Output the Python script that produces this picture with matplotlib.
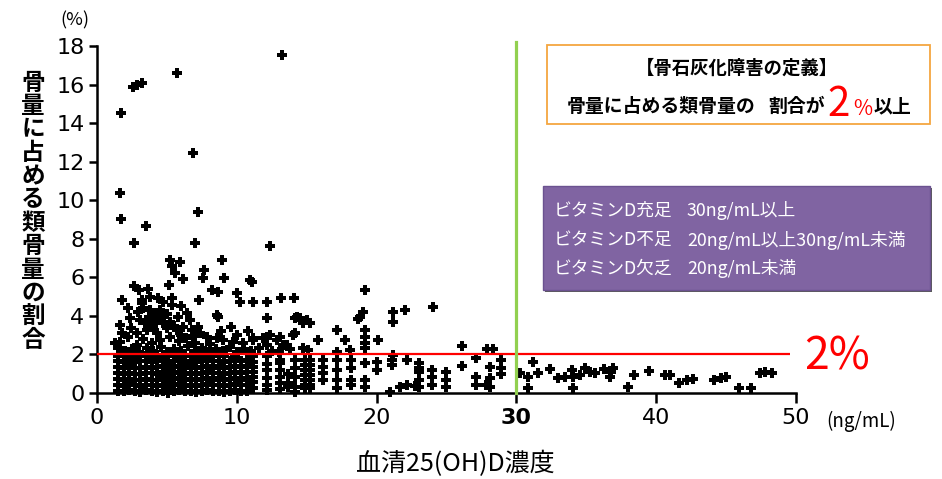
import matplotlib.pyplot as plt
from matplotlib.patches import Rectangle

plt.rcParams['font.family'] = ['Noto Sans CJK JP', 'DejaVu Sans']

# threshold lines
bone_cut = 2.0       # % osteoid volume
vitd_cut = 30        # ng/mL

# scattered points above the band (x = 25(OH)D ng/mL, y = %)
high_x = [1.7, 2.55, 2.85, 3.2, 5.7, 13.25, 6.9, 1.65, 1.72, 7.2, 3.48, 2.67, 7.02, 12.37]
high_y = [14.55, 15.85, 16.0, 16.1, 16.6, 17.55, 12.45, 10.35, 9.05, 9.4, 8.65, 7.8, 7.8, 7.6]

mid_x = [5.22, 5.94, 5.4, 5.58, 6.15, 7.65, 7.6, 8.92, 9.05, 10.94, 2.65, 3.0, 3.65, 5.12,
         8.2, 8.68, 10.05, 11.07, 1.76, 3.2, 3.79, 4.39, 4.75, 5.34, 7.3, 10.23, 11.18, 12.14,
         13.15, 14.1, 19.17, 24.06, 22.03, 21.2, 21.15, 19.05, 18.8, 18.7]
mid_y = [6.9, 6.81, 6.6, 6.22, 5.93, 6.38, 5.95, 6.9, 5.95, 5.86, 5.55, 5.34, 5.4, 5.6,
         5.34, 5.22, 5.17, 5.77, 4.82, 4.82, 5.0, 4.91, 4.74, 4.91, 4.82, 4.74, 4.74, 4.74,
         4.95, 4.95, 5.34, 4.48, 4.3, 4.22, 3.7, 4.22, 3.96, 3.82]

cloud_x = [3.2, 3.31, 3.79, 4.15, 4.5, 5.34, 2.36, 3.08, 3.43, 3.91, 4.27, 4.75, 5.22, 5.82,
           6.42, 6.65, 1.65, 1.76, 1.65, 1.52, 1.29, 2.84, 2.84, 3.55, 4.27, 4.99, 5.7, 6.17,
           6.77, 7.2, 7.37, 7.85, 8.56, 9.03, 9.75, 10.47, 11.18, 11.9, 12.37, 12.85, 13.33,
           14.04, 14.28, 14.76, 15.24, 15.83, 8.56, 9.55, 8.68, 12.14, 14.16, 14.52, 15.0,
           14.16, 12.14, 12.14, 11.18, 13.09, 13.57, 14.76, 15.1, 17.15, 17.74, 18.1, 19.17,
           19.17, 19.17, 19.17, 20.12, 21.2,
           2.0, 2.5, 3.0, 3.6, 4.0, 4.6, 5.0, 5.5, 6.0, 6.5, 7.0, 7.5, 8.0, 8.5, 9.0, 9.5,
           10.0, 10.5, 11.0, 11.6, 12.5, 13.0, 13.8,
           2.2, 3.3, 3.9, 4.5, 5.2, 5.9, 6.4, 7.0, 2.4, 4.0, 5.5, 6.0, 6.9, 8.1, 8.9, 10.0,
           10.8, 3.7, 4.6, 5.0, 2.9, 6.0, 2.2]
cloud_y = [4.65, 4.39, 4.3, 4.13, 4.3, 4.56, 3.87, 3.79, 3.61, 3.7, 3.79, 3.61, 3.7, 3.96,
           4.13, 3.79, 3.53, 3.1, 2.66, 2.32, 2.58, 3.1, 2.49, 3.27, 3.1, 3.36, 3.27, 3.44,
           3.27, 3.44, 3.1, 2.92, 2.84, 2.75, 2.66, 2.58, 2.75, 2.84, 3.01, 2.75, 2.49,
           3.01, 3.96, 3.61, 3.61, 2.75, 4.05, 3.44, 3.96, 3.87, 3.87, 3.87, 3.79,
           3.1, 2.92, 2.49, 2.84, 2.92, 2.49, 2.32, 2.23, 3.27, 2.75, 2.23, 3.27,
           2.92, 2.58, 2.32, 2.75, 1.97,
           2.2, 2.3, 2.15, 2.35, 2.2, 2.4, 2.15, 2.3, 2.2, 2.45, 2.2, 2.35, 2.15, 2.3, 2.2, 2.4,
           2.15, 2.3, 2.2, 2.35, 2.2, 2.15, 2.3,
           2.9, 2.8, 2.6, 2.75, 2.9, 2.7, 2.85, 2.6, 3.35, 3.4, 3.5, 3.0, 2.95, 2.55, 3.2, 3.0,
           3.2, 3.95, 3.9, 4.1, 4.2, 4.5, 4.4]

# dense band under 2 %, read column by column
band_cols = [
    (1.5, [0.12, 0.42, 0.72, 1.02, 1.35, 1.65, 1.92]),
    (1.9, [0.08, 0.38, 0.7, 1.0, 1.3, 1.62, 1.9]),
    (2.3, [0.15, 0.45, 0.75, 1.05, 1.38, 1.7, 1.95]),
    (2.7, [0.1, 0.4, 0.68, 0.98, 1.28, 1.6, 1.88]),
    (3.1, [0.05, 0.35, 0.66, 1.0, 1.32, 1.64, 1.93]),
    (3.5, [0.14, 0.44, 0.74, 1.06, 1.36, 1.68, 1.9]),
    (3.9, [0.1, 0.4, 0.7, 1.02, 1.3, 1.6, 1.88]),
    (4.3, [0.06, 0.36, 0.68, 0.98, 1.34, 1.66, 1.95]),
    (4.7, [0.12, 0.44, 0.76, 1.08, 1.4, 1.7, 1.92]),
    (5.1, [0.02, 0.32, 0.62, 0.94, 1.26, 1.58, 1.9]),
    (5.5, [0.1, 0.4, 0.72, 1.04, 1.36, 1.66, 1.94]),
    (5.9, [0.14, 0.46, 0.78, 1.1, 1.4, 1.72, 1.9]),
    (6.3, [0.08, 0.38, 0.7, 1.0, 1.3, 1.62, 1.92]),
    (6.7, [0.12, 0.42, 0.74, 1.06, 1.38, 1.68, 1.95]),
    (7.1, [0.04, 0.36, 0.66, 0.98, 1.3, 1.6, 1.88]),
    (7.5, [0.1, 0.42, 0.72, 1.04, 1.34, 1.66, 1.92]),
    (7.9, [0.14, 0.46, 0.78, 1.08, 1.4, 1.7, 1.9]),
    (8.3, [0.08, 0.4, 0.7, 1.02, 1.32, 1.64, 1.94]),
    (8.7, [0.12, 0.44, 0.76, 1.06, 1.38, 1.68, 1.9]),
    (9.1, [0.06, 0.38, 0.68, 1.0, 1.3, 1.62, 1.92]),
    (9.5, [0.1, 0.42, 0.74, 1.04, 1.36, 1.66]),
    (9.9, [0.14, 0.46, 0.76, 1.08, 1.4, 1.7, 1.9]),
    (10.3, [0.08, 0.4, 0.7, 1.02, 1.34, 1.64]),
    (10.7, [0.12, 0.44, 0.76, 1.08, 1.4, 1.72]),
    (11.18, [1.9, 1.6, 1.36, 1.1, 0.85, 0.55, 0.25]),
    (12.14, [1.9, 1.5, 1.19, 0.76, 0.41, 0.15]),
    (13.09, [1.71, 1.54, 1.2, 0.85, 0.5, 0.2]),
    (13.66, [1.0, 0.5, 0.33]),
    (14.16, [1.71, 1.3, 0.85, 0.33, 0.07]),
    (14.88, [1.71, 1.45, 1.19, 0.93, 0.67, 0.41, 0.24]),
    (15.24, [1.71, 1.45, 1.19, 0.93, 0.67, 0.41, 0.24]),
    (16.14, [1.71, 1.36, 1.02, 0.67]),
    (17.15, [2.14, 1.71, 1.19, 0.67, 0.24]),
    (18.2, [1.71, 1.3, 0.67, 0.41]),
    (19.17, [1.54, 0.67, 0.33]),
    (20.05, [1.62, 1.19]),
    (20.96, [0.07]),
    (21.08, [1.71, 1.45]),
    (21.67, [0.33]),
    (22.15, [1.71, 0.41]),
    (22.75, [0.36]),
    (23.05, [1.54, 1.28, 1.1, 0.67, 0.33]),
    (23.94, [1.19, 0.85, 0.41]),
    (25.0, [1.1, 0.67, 0.33]),
    (26.1, [2.42, 1.42]),
    (27.1, [1.8, 0.85, 0.41]),
    (27.8, [0.41]),
    (27.9, [2.27]),
    (28.1, [1.36, 0.76, 0.33]),
    (28.3, [2.27]),
    (28.9, [1.71, 1.28, 0.98]),
]

# above 30 ng/mL
high_d_x = [30.26, 30.85, 30.85, 31.2, 31.57, 32.4, 33.0, 33.48, 33.95, 34.07, 34.07, 34.55,
            34.9, 35.27, 35.6, 36.3, 36.8, 36.9, 36.7, 38.4, 38.0, 39.5, 40.6, 41.0, 41.6,
            42.2, 42.65, 44.1, 44.6, 45.0, 45.9, 46.8, 47.4, 47.8, 48.3]
high_d_y = [1.02, 0.85, 0.24, 1.62, 1.02, 1.23, 0.76, 0.85, 1.19, 0.85, 0.24, 0.93,
            1.28, 1.1, 1.02, 1.23, 1.1, 1.28, 0.85, 0.93, 0.33, 1.16, 0.93, 0.93, 0.5,
            0.67, 0.71, 0.67, 0.76, 0.85, 0.28, 0.28, 1.02, 1.1, 1.05]

band_x = [c[0] for c in band_cols for _ in c[1]]
band_y = [v for c in band_cols for v in c[1]]
xs = high_x + mid_x + cloud_x + band_x + high_d_x
ys = high_y + mid_y + cloud_y + band_y + high_d_y

W, H = 942, 479
def fx(p):
    return p / W
def fy(p):
    return 1 - p / H

fig = plt.figure(figsize=(9.42, 4.79), dpi=100)
ax = fig.add_axes([fx(97), fy(393), (796 - 97) / W, (393 - 46) / H])

ax.scatter(xs, ys, marker='P', s=62, c='black', linewidths=0, zorder=3, clip_on=False)

ax.hlines(bone_cut, 0, 49.6, colors='#FF0000', linewidth=1.6, zorder=4)
ax.axvline(vitd_cut, ymin=0, ymax=1.012, color='#92D050', linewidth=2.3, zorder=4, clip_on=False)

ax.set_xlim(0, 50)
ax.set_ylim(0, 18)
ax.set_xticks([0, 10, 20, 30, 40, 50])
ax.set_xticklabels(['0', '10', '20', '30', '40', '50'])
ax.set_yticks(range(0, 19, 2))
for lbl in ax.get_xticklabels() + ax.get_yticklabels():
    lbl.set_family('DejaVu Sans')
    if lbl.get_text() == '30':
        lbl.set_fontweight('bold')

for s in ['top', 'right']:
    ax.spines[s].set_visible(False)
for s in ['left', 'bottom']:
    ax.spines[s].set_linewidth(1.8)
ax.tick_params(axis='both', direction='out', width=1.8, labelsize=16, colors='black')
ax.tick_params(axis='y', length=6, pad=3)
ax.tick_params(axis='x', length=7, pad=4)

# axis labels
ylab = '骨量に占める類骨量の割合'
for i, ch in enumerate(ylab):
    fig.text(fx(33), fy(82.5 + i * 23.4), ch, fontsize=17, fontweight='bold',
             ha='center', va='center')
fig.text(fx(75), fy(20), '(%)', fontsize=13, ha='center', va='center')
fig.text(fx(455), fy(464), '血清25(OH)D濃度', fontsize=18, ha='center', va='center')
fig.text(fx(861), fy(421), '(ng/mL)', fontsize=13.5, ha='center', va='center')
fig.text(fx(837), fy(357), '2%', fontsize=32, color='#FF0000', ha='center', va='center')

# definition box
fig.patches.append(Rectangle((fx(547), fy(124)), (930 - 547) / W, (124 - 45) / H,
                             transform=fig.transFigure, facecolor='white',
                             edgecolor='#F4A640', linewidth=1.3, zorder=1))
fig.text(fx(737), fy(68), '【骨石灰化障害の定義】', fontsize=13.2, fontweight='bold',
         ha='center', va='center')
fig.text(fx(567), fy(112), '骨量に占める類骨量の', fontsize=13.6, fontweight='bold',
         ha='left', va='baseline')
fig.text(fx(768), fy(112), '割合が', fontsize=13.6, fontweight='bold', ha='left', va='baseline')
fig.text(fx(827), fy(116), '2', fontsize=29, color='#FF0000', ha='left', va='baseline')
fig.text(fx(853), fy(115), '%', fontsize=15, color='#FF0000', ha='left', va='baseline')
fig.text(fx(874), fy(112), '以上', fontsize=13.6, fontweight='bold', ha='left', va='baseline')

# vitamin D box
fig.patches.append(Rectangle((fx(545), fy(292)), (932 - 545) / W, (292 - 188) / H,
                             transform=fig.transFigure, facecolor='#5a5a5a',
                             edgecolor='none', zorder=1))
fig.patches.append(Rectangle((fx(543), fy(290)), (930 - 543) / W, (290 - 186) / H,
                             transform=fig.transFigure, facecolor='#8064A2',
                             edgecolor='#6B5290', linewidth=1.0, zorder=1))
vd_names = ['ビタミンD充足', 'ビタミンD不足', 'ビタミンD欠乏']
vd_ranges = ['30ng/mL以上', '20ng/mL以上30ng/mL未満', '20ng/mL未満']
for i, (n, r) in enumerate(zip(vd_names, vd_ranges)):
    yy = 211 + i * 29
    fig.text(fx(554), fy(yy), n, fontsize=12.8, color='white', ha='left', va='center')
    fig.text(fx(687), fy(yy), r, fontsize=12.8, color='white', ha='left', va='center')

plt.savefig('out.png', dpi=100)
